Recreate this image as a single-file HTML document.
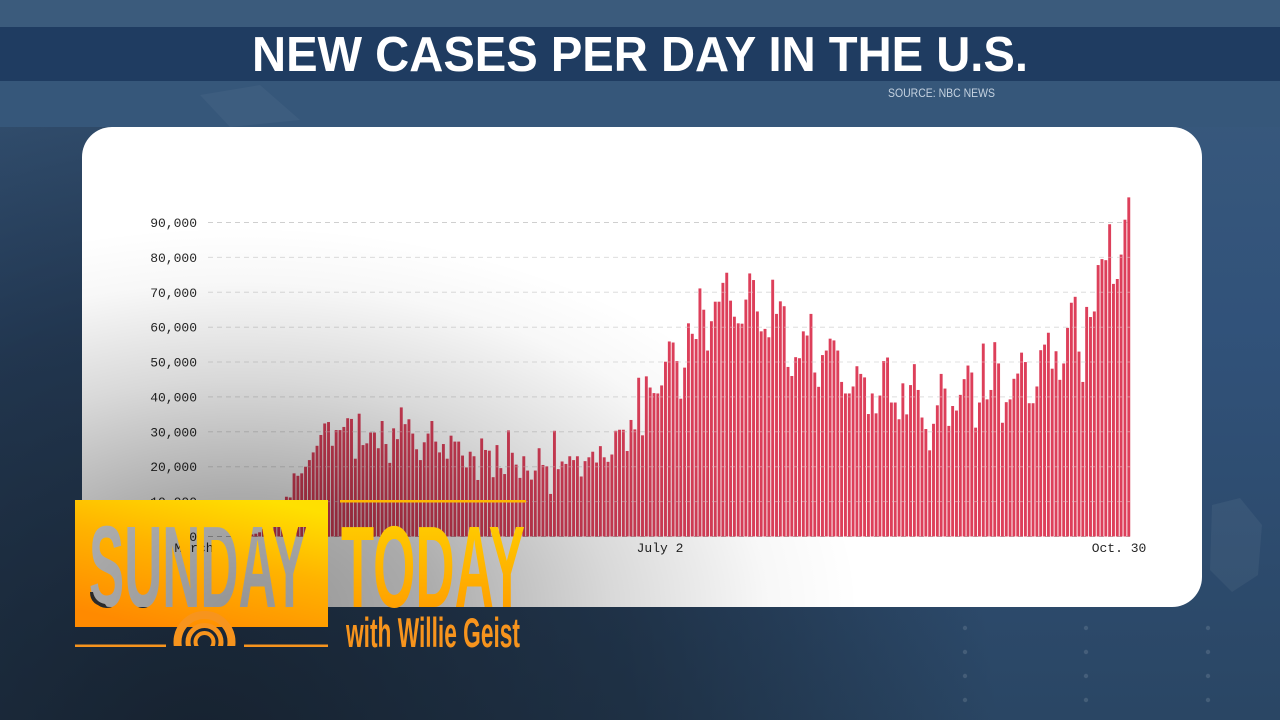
<!DOCTYPE html>
<html>
<head>
<meta charset="utf-8">
<style>
html,body{margin:0;padding:0;width:1280px;height:720px;overflow:hidden;background:#223650}
svg{display:block}
</style>
</head>
<body>
<svg width="1280" height="720" viewBox="0 0 1280 720" xmlns="http://www.w3.org/2000/svg">
<defs>
  <linearGradient id="bgv" x1="0" y1="0" x2="0" y2="1">
    <stop offset="0" stop-color="#3b5b7d"/>
    <stop offset="0.45" stop-color="#31527a"/>
    <stop offset="1" stop-color="#2a4664"/>
  </linearGradient>
  <radialGradient id="bgdark" gradientUnits="userSpaceOnUse" cx="200" cy="760" r="800">
    <stop offset="0" stop-color="#121a24" stop-opacity="0.82"/>
    <stop offset="0.55" stop-color="#121a24" stop-opacity="0.5"/>
    <stop offset="1" stop-color="#121a24" stop-opacity="0"/>
  </radialGradient>
  <radialGradient id="shade" gradientUnits="userSpaceOnUse" cx="240" cy="610" r="620" gradientTransform="translate(240 610) scale(1 0.62) translate(-240 -610)">
    <stop offset="0" stop-color="#000" stop-opacity="0.42"/>
    <stop offset="0.3" stop-color="#000" stop-opacity="0.33"/>
    <stop offset="0.6" stop-color="#000" stop-opacity="0.15"/>
    <stop offset="0.85" stop-color="#000" stop-opacity="0.03"/>
    <stop offset="1" stop-color="#000" stop-opacity="0"/>
  </radialGradient>
  <linearGradient id="box" x1="0.75" y1="0" x2="0.3" y2="1">
    <stop offset="0" stop-color="#ffe000"/>
    <stop offset="0.45" stop-color="#ffb300"/>
    <stop offset="1" stop-color="#ff8a00"/>
  </linearGradient>
  <linearGradient id="today" x1="0" y1="0" x2="0" y2="1">
    <stop offset="0" stop-color="#ffd600"/>
    <stop offset="1" stop-color="#ff9400"/>
  </linearGradient>
  <clipPath id="cardclip"><rect x="82" y="127" width="1120" height="480" rx="30" ry="30"/></clipPath>
  <clipPath id="arcclip"><rect x="160" y="600" width="90" height="46"/></clipPath>
  <mask id="sundaymask" maskUnits="userSpaceOnUse" x="0" y="0" width="1280" height="720">
    <rect x="75" y="500" width="253" height="127" fill="#fff"/>
    <text x="89" y="607" font-family="Liberation Sans, sans-serif" font-weight="bold" font-size="116" textLength="218" lengthAdjust="spacingAndGlyphs" fill="#000">SUNDAY</text>
  </mask>
</defs>

<!-- background -->
<rect x="0" y="0" width="1280" height="720" fill="url(#bgv)"/>
<rect x="0" y="0" width="1280" height="720" fill="url(#bgdark)"/>
<rect x="0" y="0" width="1280" height="27" fill="#3b5b7c"/>
<rect x="0" y="81" width="1280" height="46" fill="#36577a"/>
<polygon points="1212,505 1240,498 1262,525 1258,575 1232,592 1210,570" fill="#ffffff" opacity="0.05"/>
<polygon points="200,95 260,85 300,120 230,127" fill="#ffffff" opacity="0.04"/>
<g fill="#ffffff" opacity="0.12">
  <circle cx="965" cy="628" r="2.2"/><circle cx="965" cy="652" r="2.2"/><circle cx="965" cy="676" r="2.2"/><circle cx="965" cy="700" r="2.2"/>
  <circle cx="1086" cy="628" r="2.2"/><circle cx="1086" cy="652" r="2.2"/><circle cx="1086" cy="676" r="2.2"/><circle cx="1086" cy="700" r="2.2"/>
  <circle cx="1208" cy="628" r="2.2"/><circle cx="1208" cy="652" r="2.2"/><circle cx="1208" cy="676" r="2.2"/><circle cx="1208" cy="700" r="2.2"/>
</g>

<!-- title band -->
<rect x="0" y="27" width="1280" height="54" fill="#1f3c61"/>
<text x="252" y="71" font-family="Liberation Sans, sans-serif" font-weight="bold" font-size="49" fill="#ffffff" textLength="776" lengthAdjust="spacingAndGlyphs">NEW CASES PER DAY IN THE U.S.</text>
<text x="888" y="97" font-family="Liberation Sans, sans-serif" font-size="12" fill="#c5d2e0" textLength="107" lengthAdjust="spacingAndGlyphs">SOURCE: NBC NEWS</text>

<!-- card -->
<rect x="82" y="127" width="1120" height="480" rx="30" ry="30" fill="#ffffff"/>

<g clip-path="url(#cardclip)">
  <!-- gridlines -->
  <g stroke="#cfcfcf" stroke-width="1" stroke-dasharray="5 4" fill="none">
    <line x1="208" y1="222.5" x2="1130" y2="222.5"/>
    <line x1="208" y1="257.4" x2="1130" y2="257.4"/>
    <line x1="208" y1="292.3" x2="1130" y2="292.3"/>
    <line x1="208" y1="327.2" x2="1130" y2="327.2"/>
    <line x1="208" y1="362.0" x2="1130" y2="362.0"/>
    <line x1="208" y1="396.9" x2="1130" y2="396.9"/>
    <line x1="208" y1="431.8" x2="1130" y2="431.8"/>
    <line x1="208" y1="466.7" x2="1130" y2="466.7"/>
    <line x1="208" y1="501.6" x2="1130" y2="501.6"/>
    <line x1="208" y1="536.5" x2="1130" y2="536.5" stroke="#b9b9b9"/>
  </g>
  <!-- y labels -->
  <g font-family="Liberation Mono, monospace" font-size="13" fill="#262626" text-anchor="end">
    <text x="197" y="227">90,000</text>
    <text x="197" y="262">80,000</text>
    <text x="197" y="297">70,000</text>
    <text x="197" y="331.5">60,000</text>
    <text x="197" y="366.5">50,000</text>
    <text x="197" y="401.5">40,000</text>
    <text x="197" y="436.5">30,000</text>
    <text x="197" y="471">20,000</text>
    <text x="197" y="506">10,000</text>
    <text x="197" y="541">0</text>
  </g>
  <g font-family="Liberation Mono, monospace" font-size="13" fill="#262626" text-anchor="middle">
    <text x="194" y="552">March</text>
    <text x="660" y="552">July 2</text>
    <text x="1119" y="552">Oct. 30</text>
  </g>

  <!-- bars -->
  <g transform="translate(193.05 536.5) scale(3.829 -3.489)" fill="#dd3f5a">
<rect x="10" width=".76" height="0.1"/><rect x="11" width=".76" height="0.15"/><rect x="12" width=".76" height="0.2"/><rect x="13" width=".76" height="0.3"/><rect x="14" width=".76" height="0.45"/><rect x="15" width=".76" height="0.6"/>
<rect x="16" width=".76" height="0.8"/><rect x="17" width=".76" height="1.2"/><rect x="18" width=".76" height="2.2"/><rect x="19" width=".76" height="3.1"/><rect x="20" width=".76" height="4.2"/><rect x="21" width=".76" height="5.5"/><rect x="22" width=".76" height="7.5"/><rect x="23" width=".76" height="9.5"/>
<rect x="24" width=".76" height="11.4"/><rect x="25" width=".76" height="11.2"/><rect x="26" width=".76" height="18.1"/><rect x="27" width=".76" height="17.4"/><rect x="28" width=".76" height="18.1"/><rect x="29" width=".76" height="20.0"/><rect x="30" width=".76" height="21.9"/><rect x="31" width=".76" height="24.1"/><rect x="32" width=".76" height="26.0"/><rect x="33" width=".76" height="29.1"/><rect x="34" width=".76" height="32.4"/><rect x="35" width=".76" height="32.8"/><rect x="36" width=".76" height="26.0"/><rect x="37" width=".76" height="30.5"/><rect x="38" width=".76" height="30.5"/><rect x="39" width=".76" height="31.4"/><rect x="40" width=".76" height="33.9"/><rect x="41" width=".76" height="33.7"/><rect x="42" width=".76" height="22.3"/><rect x="43" width=".76" height="35.2"/><rect x="44" width=".76" height="26.2"/><rect x="45" width=".76" height="26.7"/><rect x="46" width=".76" height="29.8"/><rect x="47" width=".76" height="29.8"/><rect x="48" width=".76" height="25.3"/><rect x="49" width=".76" height="33.1"/>
<rect x="50" width=".76" height="26.5"/><rect x="51" width=".76" height="21.1"/><rect x="52" width=".76" height="31.0"/><rect x="53" width=".76" height="27.9"/><rect x="54" width=".76" height="37.0"/><rect x="55" width=".76" height="32.2"/><rect x="56" width=".76" height="33.6"/><rect x="57" width=".76" height="29.5"/><rect x="58" width=".76" height="25.0"/><rect x="59" width=".76" height="21.9"/><rect x="60" width=".76" height="27.0"/><rect x="61" width=".76" height="29.5"/><rect x="62" width=".76" height="33.1"/><rect x="63" width=".76" height="27.2"/><rect x="64" width=".76" height="24.1"/><rect x="65" width=".76" height="26.5"/><rect x="66" width=".76" height="22.3"/><rect x="67" width=".76" height="28.9"/><rect x="68" width=".76" height="27.2"/><rect x="69" width=".76" height="27.2"/><rect x="70" width=".76" height="23.2"/><rect x="71" width=".76" height="19.8"/><rect x="72" width=".76" height="24.3"/><rect x="73" width=".76" height="23.0"/><rect x="74" width=".76" height="16.2"/>
<rect x="75" width=".76" height="28.1"/><rect x="76" width=".76" height="24.8"/><rect x="77" width=".76" height="24.6"/><rect x="78" width=".76" height="17.0"/><rect x="79" width=".76" height="26.2"/><rect x="80" width=".76" height="19.6"/><rect x="81" width=".76" height="17.9"/><rect x="82" width=".76" height="30.4"/><rect x="83" width=".76" height="24.0"/><rect x="84" width=".76" height="20.6"/><rect x="85" width=".76" height="16.8"/><rect x="86" width=".76" height="23.0"/><rect x="87" width=".76" height="18.9"/><rect x="88" width=".76" height="16.3"/><rect x="89" width=".76" height="18.9"/><rect x="90" width=".76" height="25.3"/><rect x="91" width=".76" height="20.5"/><rect x="92" width=".76" height="20.1"/><rect x="93" width=".76" height="12.2"/><rect x="94" width=".76" height="30.3"/><rect x="95" width=".76" height="19.3"/><rect x="96" width=".76" height="21.5"/><rect x="97" width=".76" height="20.8"/><rect x="98" width=".76" height="23.0"/><rect x="99" width=".76" height="21.9"/>
<rect x="100" width=".76" height="23.0"/><rect x="101" width=".76" height="17.2"/><rect x="102" width=".76" height="21.6"/><rect x="103" width=".76" height="22.7"/><rect x="104" width=".76" height="24.3"/><rect x="105" width=".76" height="21.2"/><rect x="106" width=".76" height="25.9"/><rect x="107" width=".76" height="22.7"/><rect x="108" width=".76" height="21.4"/><rect x="109" width=".76" height="23.5"/><rect x="110" width=".76" height="30.3"/><rect x="111" width=".76" height="30.6"/><rect x="112" width=".76" height="30.6"/><rect x="113" width=".76" height="24.5"/><rect x="114" width=".76" height="33.4"/><rect x="115" width=".76" height="30.7"/>
<rect x="116" width=".76" height="45.5"/><rect x="117" width=".76" height="29.0"/><rect x="118" width=".76" height="45.9"/><rect x="119" width=".76" height="42.7"/><rect x="120" width=".76" height="41.1"/><rect x="121" width=".76" height="41.0"/><rect x="122" width=".76" height="43.3"/><rect x="123" width=".76" height="50.1"/><rect x="124" width=".76" height="55.9"/><rect x="125" width=".76" height="55.6"/><rect x="126" width=".76" height="50.3"/><rect x="127" width=".76" height="39.5"/><rect x="128" width=".76" height="48.4"/><rect x="129" width=".76" height="61.1"/><rect x="130" width=".76" height="58.1"/><rect x="131" width=".76" height="56.6"/><rect x="132" width=".76" height="71.1"/><rect x="133" width=".76" height="65.0"/><rect x="134" width=".76" height="53.3"/><rect x="135" width=".76" height="61.7"/><rect x="136" width=".76" height="67.3"/><rect x="137" width=".76" height="67.3"/><rect x="138" width=".76" height="72.7"/><rect x="139" width=".76" height="75.6"/>
<rect x="140" width=".76" height="67.6"/><rect x="141" width=".76" height="63.0"/><rect x="142" width=".76" height="61.1"/><rect x="143" width=".76" height="61.0"/><rect x="144" width=".76" height="67.9"/><rect x="145" width=".76" height="75.4"/><rect x="146" width=".76" height="73.5"/><rect x="147" width=".76" height="64.5"/><rect x="148" width=".76" height="58.8"/><rect x="149" width=".76" height="59.5"/><rect x="150" width=".76" height="57.1"/><rect x="151" width=".76" height="73.6"/><rect x="152" width=".76" height="63.8"/><rect x="153" width=".76" height="67.4"/><rect x="154" width=".76" height="66.0"/><rect x="155" width=".76" height="48.6"/><rect x="156" width=".76" height="46.0"/><rect x="157" width=".76" height="51.4"/><rect x="158" width=".76" height="51.1"/><rect x="159" width=".76" height="58.8"/><rect x="160" width=".76" height="57.6"/><rect x="161" width=".76" height="63.8"/><rect x="162" width=".76" height="47.0"/><rect x="163" width=".76" height="42.9"/><rect x="164" width=".76" height="52.0"/><rect x="165" width=".76" height="53.3"/><rect x="166" width=".76" height="56.7"/><rect x="167" width=".76" height="56.2"/><rect x="168" width=".76" height="53.3"/><rect x="169" width=".76" height="44.3"/>
<rect x="170" width=".76" height="41.0"/><rect x="171" width=".76" height="41.0"/><rect x="172" width=".76" height="43.0"/><rect x="173" width=".76" height="48.8"/><rect x="174" width=".76" height="46.6"/><rect x="175" width=".76" height="45.6"/><rect x="176" width=".76" height="35.1"/><rect x="177" width=".76" height="41.0"/><rect x="178" width=".76" height="35.3"/><rect x="179" width=".76" height="40.4"/><rect x="180" width=".76" height="50.3"/><rect x="181" width=".76" height="51.3"/><rect x="182" width=".76" height="38.4"/><rect x="183" width=".76" height="38.4"/><rect x="184" width=".76" height="33.6"/><rect x="185" width=".76" height="43.9"/><rect x="186" width=".76" height="35.0"/><rect x="187" width=".76" height="43.4"/><rect x="188" width=".76" height="49.4"/><rect x="189" width=".76" height="42.0"/><rect x="190" width=".76" height="34.1"/><rect x="191" width=".76" height="30.8"/><rect x="192" width=".76" height="24.7"/><rect x="193" width=".76" height="32.3"/><rect x="194" width=".76" height="37.6"/><rect x="195" width=".76" height="46.6"/><rect x="196" width=".76" height="42.4"/><rect x="197" width=".76" height="31.7"/><rect x="198" width=".76" height="37.4"/><rect x="199" width=".76" height="36.1"/>
<rect x="200" width=".76" height="40.6"/><rect x="201" width=".76" height="45.1"/><rect x="202" width=".76" height="49.0"/><rect x="203" width=".76" height="47.0"/><rect x="204" width=".76" height="31.2"/><rect x="205" width=".76" height="38.4"/><rect x="206" width=".76" height="55.3"/><rect x="207" width=".76" height="39.3"/><rect x="208" width=".76" height="42.0"/><rect x="209" width=".76" height="55.7"/><rect x="210" width=".76" height="49.6"/><rect x="211" width=".76" height="32.6"/><rect x="212" width=".76" height="38.5"/><rect x="213" width=".76" height="39.3"/><rect x="214" width=".76" height="45.2"/><rect x="215" width=".76" height="46.7"/><rect x="216" width=".76" height="52.7"/><rect x="217" width=".76" height="50.0"/><rect x="218" width=".76" height="38.2"/><rect x="219" width=".76" height="38.2"/>
<rect x="220" width=".76" height="43.0"/><rect x="221" width=".76" height="53.4"/><rect x="222" width=".76" height="55.0"/><rect x="223" width=".76" height="58.4"/><rect x="224" width=".76" height="48.1"/><rect x="225" width=".76" height="53.1"/><rect x="226" width=".76" height="44.9"/><rect x="227" width=".76" height="49.6"/><rect x="228" width=".76" height="59.8"/><rect x="229" width=".76" height="67.0"/><rect x="230" width=".76" height="68.7"/><rect x="231" width=".76" height="53.0"/><rect x="232" width=".76" height="44.3"/><rect x="233" width=".76" height="65.8"/><rect x="234" width=".76" height="62.9"/><rect x="235" width=".76" height="64.5"/><rect x="236" width=".76" height="77.8"/><rect x="237" width=".76" height="79.5"/><rect x="238" width=".76" height="79.2"/><rect x="239" width=".76" height="89.5"/><rect x="240" width=".76" height="72.4"/><rect x="241" width=".76" height="73.8"/><rect x="242" width=".76" height="80.8"/><rect x="243" width=".76" height="90.8"/><rect x="244" width=".76" height="97.2"/>
  </g>

  <!-- faint gridlines over bars -->
  <g stroke="#ffffff" stroke-opacity="0.35" stroke-width="1" stroke-dasharray="5 4" fill="none">
    <line x1="208" y1="257.4" x2="1130" y2="257.4"/>
    <line x1="208" y1="292.3" x2="1130" y2="292.3"/>
    <line x1="208" y1="327.2" x2="1130" y2="327.2"/>
    <line x1="208" y1="362.0" x2="1130" y2="362.0"/>
    <line x1="208" y1="396.9" x2="1130" y2="396.9"/>
    <line x1="208" y1="431.8" x2="1130" y2="431.8"/>
    <line x1="208" y1="466.7" x2="1130" y2="466.7"/>
    <line x1="208" y1="501.6" x2="1130" y2="501.6"/>
  </g>

  <!-- shading overlay -->
  <rect x="82" y="127" width="1120" height="480" fill="url(#shade)"/>
</g>

<!-- logo -->
<rect x="75" y="500" width="253" height="127" fill="url(#box)" mask="url(#sundaymask)"/>
<path d="M90,592 Q90,606 107,607 L105,604 Q95,602 93,592 Z" fill="#2a2a2a"/>
<rect x="340" y="500" width="186" height="2.5" fill="#ffb800"/>
<text x="341" y="607" font-family="Liberation Sans, sans-serif" font-weight="bold" font-size="116" textLength="184" lengthAdjust="spacingAndGlyphs" fill="url(#today)">TODAY</text>
<rect x="75" y="644.5" width="91" height="2.5" fill="#f7941d"/>
<rect x="244" y="644.5" width="84" height="2.5" fill="#f7941d"/>
<g clip-path="url(#arcclip)" fill="none" stroke="#f7941d">
  <circle cx="204.5" cy="642" r="27" stroke-width="8"/>
  <circle cx="204.5" cy="642" r="16.5" stroke-width="5"/>
  <circle cx="204.5" cy="642" r="9" stroke-width="4"/>
</g>
<text x="346" y="647" font-family="Liberation Sans, sans-serif" font-weight="bold" font-size="42" textLength="174" lengthAdjust="spacingAndGlyphs" fill="#f7941d">with Willie Geist</text>
</svg>
</body>
</html>
